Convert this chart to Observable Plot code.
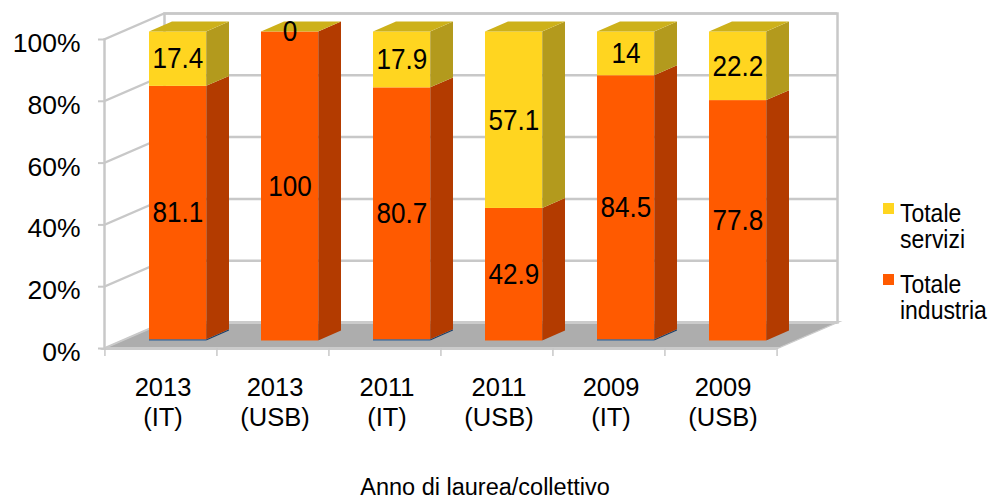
<!DOCTYPE html>
<html><head><meta charset="utf-8">
<script src="https://cdn.jsdelivr.net/npm/d3@7"></script>
<script src="https://cdn.jsdelivr.net/npm/@observablehq/plot@0.6"></script>
<style>
body{margin:0;background:#fff;}
#wrap{position:relative;width:995px;height:499px;font-family:"Liberation Sans",Arial,sans-serif;color:#000;}
.lg{position:absolute;font-size:25.5px;line-height:26px;height:26px;transform:scaleX(0.9);transform-origin:left center;white-space:nowrap;}
.sw{position:absolute;width:11px;height:11px;}
#xtitle{position:absolute;left:485px;top:476px;transform:translateX(-50%);font-size:23.5px;line-height:22px;white-space:nowrap;}
</style></head><body><div id="wrap"></div>
<script>
const categories = ["2013 (IT)", "2013 (USB)", "2011 (IT)", "2011 (USB)", "2009 (IT)", "2009 (USB)"];
const tickLabels = ["2013\n(IT)", "2013\n(USB)", "2011\n(IT)", "2011\n(USB)", "2009\n(IT)", "2009\n(USB)"];
const altro = [0.4, 0, 0.4, 0, 0.4, 0];
const industria = [81.1, 100, 80.7, 42.9, 84.5, 77.8];
const servizi = [17.4, 0, 17.9, 57.1, 14, 22.2];
const seriesNames = ["Altro", "Totale industria", "Totale servizi"];
const yTicks = [0, 0.2, 0.4, 0.6, 0.8, 1];
const xTitle = "Anno di laurea/collettivo";

const frontColor = {"Altro": "#1f5c9c", "Totale industria": "#ff5a00", "Totale servizi": "#ffd520"};
const sideColor = {"Altro": "#163f6b", "Totale industria": "#b33b00", "Totale servizi": "#b39a1d"};
const topColor = "#cdb11a";

const rows = [];
categories.forEach((c, i) => {
  rows.push({cat: c, series: seriesNames[0], value: altro[i]});
  rows.push({cat: c, series: seriesNames[1], value: industria[i]});
  rows.push({cat: c, series: seriesNames[2], value: servizi[i]});
});
const tops = categories.map((c, i) => {
  const tot = altro[i] + industria[i] + servizi[i];
  return {cat: c, top: tot / tot};
});
const labelOf = new Map(categories.map((c, i) => [c, tickLabels[i]]));

const W = 995, H = 499, mL = 104, mR = 218, mT = 39, mB = 151;
const plotW = W - mL - mR, plotH = H - mT - mB;
const step = plotW / categories.length;
const pIn = 0.49, pOut = 0.245;
const bw = step * (1 - pIn);
const barDx = 17, barDy = -7.5, depthX = 23, depthY = 10;
const wallDx = 60, wallDy = -26;
const gridColor = "#c8c8c8";

const stk = (o) => Plot.stackY({x: "cat", y: "value", z: "series", offset: "normalize", ...o});
const tag = (name) => () => name;

const chart = Plot.plot({
  width: W, height: H,
  marginLeft: mL, marginRight: mR, marginTop: mT, marginBottom: mB,
  style: {fontFamily: "Liberation Sans, Arial, sans-serif", color: "#000", background: "white", overflow: "visible"},
  x: {domain: categories, paddingInner: pIn, paddingOuter: pOut, label: null},
  y: {domain: [0, 1], label: null},
  color: {type: "identity"},
  marks: [
    // back wall
    Plot.frame({stroke: gridColor, strokeWidth: 2.5, dx: wallDx, dy: wallDy}),
    Plot.ruleY(yTicks, {stroke: gridColor, strokeWidth: 2.5, dx: wallDx, dy: wallDy}),
    // side wall diagonals
    Plot.ruleY(yTicks, {stroke: gridColor, strokeWidth: 2.5, insetRight: plotW - wallDx, ariaLabel: tag("sidegrid")}),
    // y axis line
    Plot.frame({anchor: "left", stroke: gridColor, strokeWidth: 2.5}),
    // floor
    Plot.frame({fill: "#adadad", stroke: "#cbcbcb", strokeWidth: 3, insetTop: plotH + wallDy, ariaLabel: "floor"}),
    // ticks
    Plot.axisY(yTicks, {text: null, tickSize: 6, stroke: gridColor, strokeWidth: 2}),
    Plot.axisX({text: null, tickSize: 8, dx: -step / 2, stroke: gridColor, strokeWidth: 1.5, label: null}),
    Plot.axisX([categories[categories.length - 1]], {text: null, tickSize: 8, dx: step / 2, stroke: gridColor, strokeWidth: 1.5, label: null}),
    // bars: side faces
    Plot.barY(rows, stk({fill: d => sideColor[d.series], insetRight: bw - depthX, dx: barDx + bw, dy: barDy, ariaLabel: tag("side")})),
    // bars: front faces
    Plot.barY(rows, stk({fill: d => frontColor[d.series], dx: barDx, dy: barDy})),
    // bars: top faces
    Plot.barY(tops, {x: "cat", y1: "top", y2: "top", insetTop: -depthY, fill: topColor, dx: barDx, dy: barDy, ariaLabel: tag("topface")}),
    // value labels
    Plot.text(rows, stk({text: d => d.series === "Altro" ? "" : String(d.value), dx: barDx, dy: barDy, fontSize: 29, fill: "#000", ariaLabel: tag("vlabel")})),
    // axis labels
    Plot.axisY(yTicks, {tickSize: 0, tickPadding: 24, dy: 4, fontSize: 26.5, tickFormat: d3.format(".0%"), label: null, fill: "#000"}),
    Plot.axisX({tickSize: 0, tickPadding: 26, dx: 2, fontSize: 25.5, lineHeight: 1.18, tickFormat: d => labelOf.get(d), label: null, fill: "#000"})
  ]
});

function applySkew(svg, label, fn, sel = "rect,line") {
  svg.querySelectorAll(`[aria-label="${label}"]`).forEach(el => {
    const els = el.matches(sel) ? [el] : el.querySelectorAll(sel);
    els.forEach(e => {
      const m = fn(e);
      const prev = e.getAttribute("transform");
      e.setAttribute("transform", (prev ? prev + " " : "") + m);
    });
  });
}
const svg = chart.tagName === "svg" ? chart : chart.querySelector("svg");
// side faces: skewY about left edge
const tSide = -depthY / depthX;
applySkew(svg, "side", e => { const x0 = +e.getAttribute("x"); return `matrix(1,${tSide},0,1,0,${-tSide * x0})`; });
// top faces: skewX about bottom edge
const tTop = -depthX / depthY;
applySkew(svg, "topface", e => { const yb = +e.getAttribute("y") + +e.getAttribute("height"); return `matrix(1,0,${tTop},1,${-tTop * yb},0)`; });
// side wall diagonals
const tWall = wallDy / wallDx;
applySkew(svg, "sidegrid", e => { const x0 = +e.getAttribute("x1"); return `matrix(1,${tWall},0,1,0,${-tWall * x0})`; });
// floor
const tFloor = -wallDx / (-wallDy);
applySkew(svg, "floor", e => { const yb = +e.getAttribute("y") + +e.getAttribute("height"); return `matrix(1,0,${tFloor},1,${-tFloor * yb},0)`; });
// value labels: slightly condensed glyphs, as in the original
applySkew(svg, "vlabel", e => { const x = +(e.getAttribute("x") || 0); return `translate(${x},0) scale(0.9,1) translate(${-x},0)`; }, "text");

const wrap = document.getElementById("wrap");
wrap.appendChild(chart);

// legend
const legendItems = [
  {name: "Totale servizi", color: frontColor["Totale servizi"], lines: ["Totale", "servizi"], top: 200},
  {name: "Totale industria", color: frontColor["Totale industria"], lines: ["Totale", "industria"], top: 271}
];
legendItems.forEach(it => {
  const sw = document.createElement("div");
  sw.className = "sw"; sw.style.left = "883px"; sw.style.top = (it.top + 3) + "px"; sw.style.background = it.color;
  wrap.appendChild(sw);
  it.lines.forEach((line, k) => {
    const t = document.createElement("div");
    t.className = "lg"; t.style.left = "900px"; t.style.top = (it.top + 26 * k) + "px";
    t.textContent = line;
    wrap.appendChild(t);
  });
});
const xt = document.createElement("div");
xt.id = "xtitle"; xt.textContent = xTitle;
wrap.appendChild(xt);
</script></body></html>
